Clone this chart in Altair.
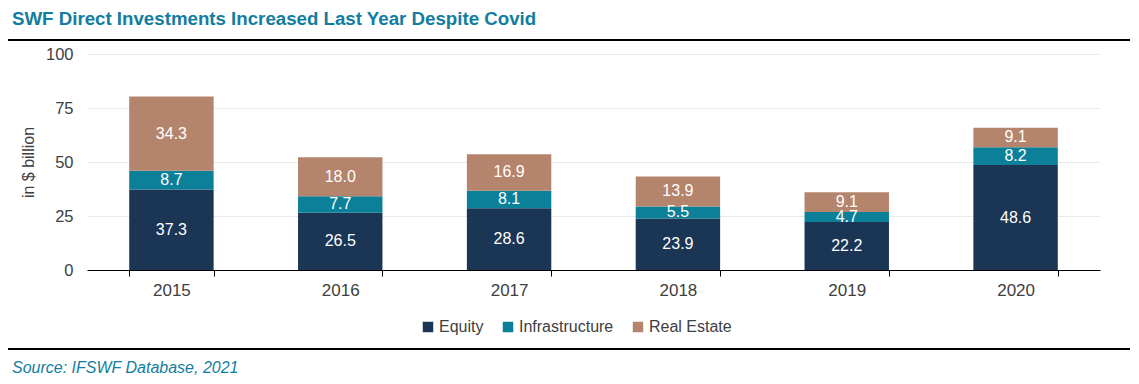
import altair as alt
import pandas as pd

years = ["2015", "2016", "2017", "2018", "2019", "2020"]
series = ["Equity", "Infrastructure", "Real Estate"]
equity = [37.3, 26.5, 28.6, 23.9, 22.2, 48.6]
infrastructure = [8.7, 7.7, 8.1, 5.5, 4.7, 8.2]
real_estate = [34.3, 18.0, 16.9, 13.9, 9.1, 9.1]
colors = ["#1b3555", "#0c7f99", "#b5846c"]

title_text = "SWF Direct Investments Increased Last Year Despite Covid"
source_text = "Source: IFSWF Database, 2021"

rows = []
for i, y in enumerate(years):
    for r, (s, vals) in enumerate(zip(series, [equity, infrastructure, real_estate])):
        rows.append({"year": y, "series": s, "value": vals[i], "rank": r,
                     "label": f"{vals[i]:.1f}"})
df = pd.DataFrame(rows)

W, H = 1013, 216
FONT = "Liberation Sans"

base = alt.Chart(df).transform_stack(
    stack="value", groupby=["year"], as_=["y0", "y1"], sort=[alt.SortField("rank")]
).transform_calculate(mid="(datum.y0 + datum.y1) / 2")

xenc = alt.X("year:N", sort=years, title=None,
             scale=alt.Scale(paddingInner=0.5, paddingOuter=0.25),
             axis=alt.Axis(labelAngle=0, labelFontSize=17, labelColor="#404040",
                           labelFont=FONT, domainColor="#000000", domainWidth=1.2,
                           tickColor="#000000", tickSize=6, tickBand="extent",
                           labelPadding=6, grid=False))

bars = base.mark_bar().encode(
    x=xenc,
    y=alt.Y("y0:Q", scale=alt.Scale(domain=[0, 100]), title="in $ billion",
            axis=alt.Axis(values=[0, 25, 50, 75, 100], labelFontSize=16.5,
                          labelColor="#404040", labelFont=FONT, ticks=False,
                          domain=False, labelPadding=14, gridColor="#e9e9e9",
                          titleFontSize=16, titleFont=FONT, titleColor="#404040",
                          titleFontWeight="normal", titlePadding=9)),
    y2="y1:Q",
    color=alt.Color("series:N", scale=alt.Scale(domain=series, range=colors),
                    legend=alt.Legend(title=None, orient="none", direction="horizontal",
                                      legendX=333, legendY=265, symbolType="square",
                                      symbolSize=110, symbolStrokeWidth=0,
                                      labelFontSize=16, labelFont=FONT,
                                      labelColor="#404040", columnPadding=16,
                                      labelOffset=3)),
    order=alt.Order("rank:Q"),
)

labels = base.mark_text(color="white", fontSize=16, font=FONT, baseline="middle").encode(
    x=alt.X("year:N", sort=years),
    y=alt.Y("mid:Q"),
    text="label:N",
)

annot = pd.DataFrame({"t": [title_text]})
title = alt.Chart(annot).mark_text(
    align="left", baseline="alphabetic", fontSize=18.7, fontWeight="bold",
    font=FONT, color="#127d9f"
).encode(x=alt.value(-75), y=alt.value(-29), text="t:N")

src = alt.Chart(pd.DataFrame({"t": [source_text]})).mark_text(
    align="left", baseline="middle", fontSize=16, fontStyle="italic",
    font=FONT, color="#127d9f"
).encode(x=alt.value(-75), y=alt.value(314), text="t:N")

rule_top = alt.Chart(pd.DataFrame({"a": [0]})).mark_rule(color="#000000", strokeWidth=2).encode(
    x=alt.value(-81), x2=alt.value(1043), y=alt.value(-14))
rule_bot = alt.Chart(pd.DataFrame({"a": [0]})).mark_rule(color="#000000", strokeWidth=2).encode(
    x=alt.value(-81), x2=alt.value(1043), y=alt.value(295))

chart = alt.layer(bars, labels, title, src, rule_top, rule_bot).properties(
    width=W, height=H,
    autosize=alt.AutoSizeParams(type="none"),
    padding={"left": 79, "top": 46, "right": 31, "bottom": 106},
).configure_view(stroke=None)

chart.save("out.html", embed_options={"renderer": "svg", "actions": False})
